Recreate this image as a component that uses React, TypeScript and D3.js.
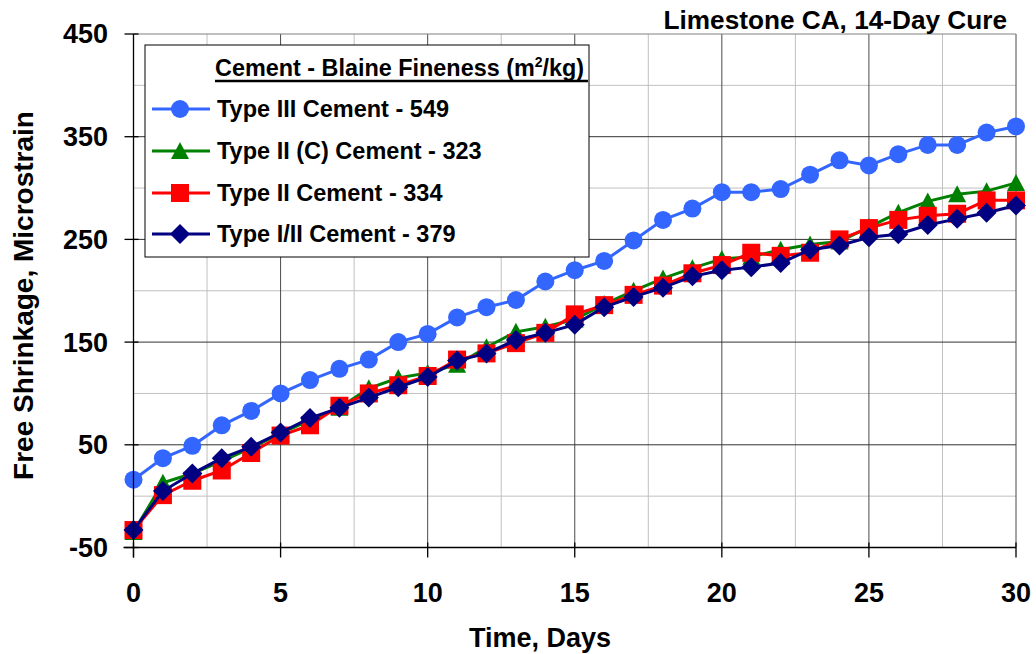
import React from "react";
import * as d3 from "d3";

const days = d3.range(0, 31);
const typeIII = [16, 37, 49, 69, 83, 100, 113, 124, 133, 150, 158, 174, 184, 191, 209, 220, 229, 249, 269, 280, 296, 296, 299, 313, 327, 322, 333, 342, 342, 354, 360];
const typeIIC = [-35, 13, 22, 34, 47, 61, 74, 86, 105, 115, 120, 128, 145, 160, 165, 172, 187, 200, 212, 222, 231, 233, 240, 245, 248, 262, 276, 287, 294, 297, 305];
const typeII = [-33, 1, 15, 25, 42, 59, 69, 88, 100, 108, 117, 133, 139, 149, 159, 177, 186, 196, 205, 217, 225, 237, 234, 237, 250, 261, 269, 273, 275, 288, 288];
const typeIII_II = [-33, 5, 22, 37, 48, 62, 76, 86, 96, 106, 116, 132, 139, 152, 159, 167, 184, 194, 203, 214, 220, 223, 227, 240, 244, 252, 255, 264, 270, 276, 283];

const xTicks = [0, 5, 10, 15, 20, 25, 30];
const xMinor = [2.5, 7.5, 12.5, 17.5, 22.5, 27.5];
const yTicks = [-50, 50, 150, 250, 350, 450];
const yMinor = [0, 100, 200, 300, 400];

const title = "Limestone CA, 14-Day Cure";
const xTitle = "Time, Days";
const yTitle = "Free Shrinkage, Microstrain";

type Series = { name: string; values: number[]; color: string; marker: "circle" | "triangle" | "square" | "diamond" };
const series: Series[] = [
  { name: "Type III Cement - 549", values: typeIII, color: "#3366FF", marker: "circle" },
  { name: "Type II (C) Cement - 323", values: typeIIC, color: "#008000", marker: "triangle" },
  { name: "Type II Cement - 334", values: typeII, color: "#FF0000", marker: "square" },
  { name: "Type I/II Cement - 379", values: typeIII_II, color: "#000080", marker: "diamond" },
];

const FONT = "'Liberation Sans', Arial, Helvetica, sans-serif";

function Marker({ type, x, y, color }: { type: string; x: number; y: number; color: string }) {
  if (type === "circle") return <circle cx={x} cy={y} r={9} fill={color} />;
  if (type === "square") return <rect x={x - 9} y={y - 9} width={18} height={18} fill={color} />;
  if (type === "triangle")
    return <path d={`M${x},${y - 9}L${x + 9},${y + 8}L${x - 9},${y + 8}Z`} fill={color} />;
  return <path d={`M${x},${y - 10}L${x + 10},${y}L${x},${y + 10}L${x - 10},${y}Z`} fill={color} />;
}

export default function App() {
  const W = 1036, H = 654;
  const x = d3.scaleLinear().domain([0, 30]).range([133.5, 1016]);
  const y = d3.scaleLinear().domain([-50, 450]).range([547.5, 34]);
  const line = d3.line<number>().x((_, i) => x(days[i])).y((v) => y(v));

  const legX = 145, legY = 45;
  const itemY = [109, 151, 193, 234];

  return (
    <svg width={W} height={H} style={{ position: "absolute", left: 0, top: 0, background: "#fff" }} fontFamily={FONT} fontWeight="bold">
      <rect width={W} height={H} fill="#fff" />
      {/* minor gridlines */}
      {xMinor.map((t) => (
        <line key={"xm" + t} x1={x(t)} x2={x(t)} y1={y(450)} y2={y(-50)} stroke="#c0c0c0" strokeWidth={1} />
      ))}
      {yMinor.map((t) => (
        <line key={"ym" + t} x1={x(0)} x2={x(30)} y1={y(t)} y2={y(t)} stroke="#c0c0c0" strokeWidth={1} />
      ))}
      {/* major gridlines */}
      {xTicks.slice(1).map((t) => (
        <line key={"xM" + t} x1={x(t)} x2={x(t)} y1={y(450)} y2={y(-50)} stroke="#4a4a4a" strokeWidth={1} />
      ))}
      {yTicks.slice(1, -1).map((t) => (
        <line key={"yM" + t} x1={x(0)} x2={x(30)} y1={y(t)} y2={y(t)} stroke="#333" strokeWidth={1} />
      ))}
      <line x1={x(0)} x2={x(30)} y1={y(450)} y2={y(450)} stroke="#808080" strokeWidth={1} />

      {/* series */}
      {series.map((s) => (
        <g key={s.name}>
          <path d={line(s.values) || ""} fill="none" stroke={s.color} strokeWidth={3} />
          {s.values.map((v, i) => (
            <Marker key={i} type={s.marker} x={x(days[i])} y={y(v)} color={s.color} />
          ))}
        </g>
      ))}

      {/* axes */}
      <line x1={x(0)} x2={x(0)} y1={y(450)} y2={y(-50) + 10} stroke="#000" strokeWidth={1.3} />
      <line x1={x(0) - 10} x2={x(30)} y1={y(-50)} y2={y(-50)} stroke="#000" strokeWidth={1.3} />
      {yTicks.map((t) => (
        <g key={"yt" + t}>
          <line x1={x(0) - 9} x2={x(0) + 5} y1={y(t)} y2={y(t)} stroke="#000" strokeWidth={1.3} />
          <text x={108} y={y(t)} dy="0.35em" textAnchor="end" fontSize={27} fill="#000">{t}</text>
        </g>
      ))}
      {xTicks.map((t) => (
        <g key={"xt" + t}>
          <line x1={x(t)} x2={x(t)} y1={y(-50) - 5} y2={y(-50) + 10} stroke="#000" strokeWidth={1.3} />
          <text x={x(t)} y={602} textAnchor="middle" fontSize={27} fill="#000">{t}</text>
        </g>
      ))}

      {/* titles */}
      <text x={540} y={647} textAnchor="middle" fontSize={27} fill="#000">{xTitle}</text>
      <text transform="translate(33,295.5) rotate(-90)" textAnchor="middle" fontSize={28} fill="#000">{yTitle}</text>
      <text x={1007} y={29} textAnchor="end" fontSize={26.2} fill="#000">{title}</text>

      {/* legend */}
      <rect x={legX} y={legY} width={444} height={212} fill="#fff" stroke="#000" strokeWidth={1} />
      <text x={215} y={75.5} fontSize={23.4} fill="#000">
        Cement - Blaine Fineness (m<tspan dy={-9} fontSize={14}>2</tspan><tspan dy={9}>/kg)</tspan>
      </text>
      <line x1={215} x2={588} y1={81} y2={81} stroke="#000" strokeWidth={2.5} />
      {series.map((s, i) => (
        <g key={"lg" + s.name}>
          <line x1={152} x2={210} y1={itemY[i]} y2={itemY[i]} stroke={s.color} strokeWidth={3} />
          <Marker type={s.marker} x={180} y={itemY[i]} color={s.color} />
          <text x={217} y={itemY[i]} dy="0.35em" fontSize={23.5} fill="#000">{s.name}</text>
        </g>
      ))}
    </svg>
  );
}
